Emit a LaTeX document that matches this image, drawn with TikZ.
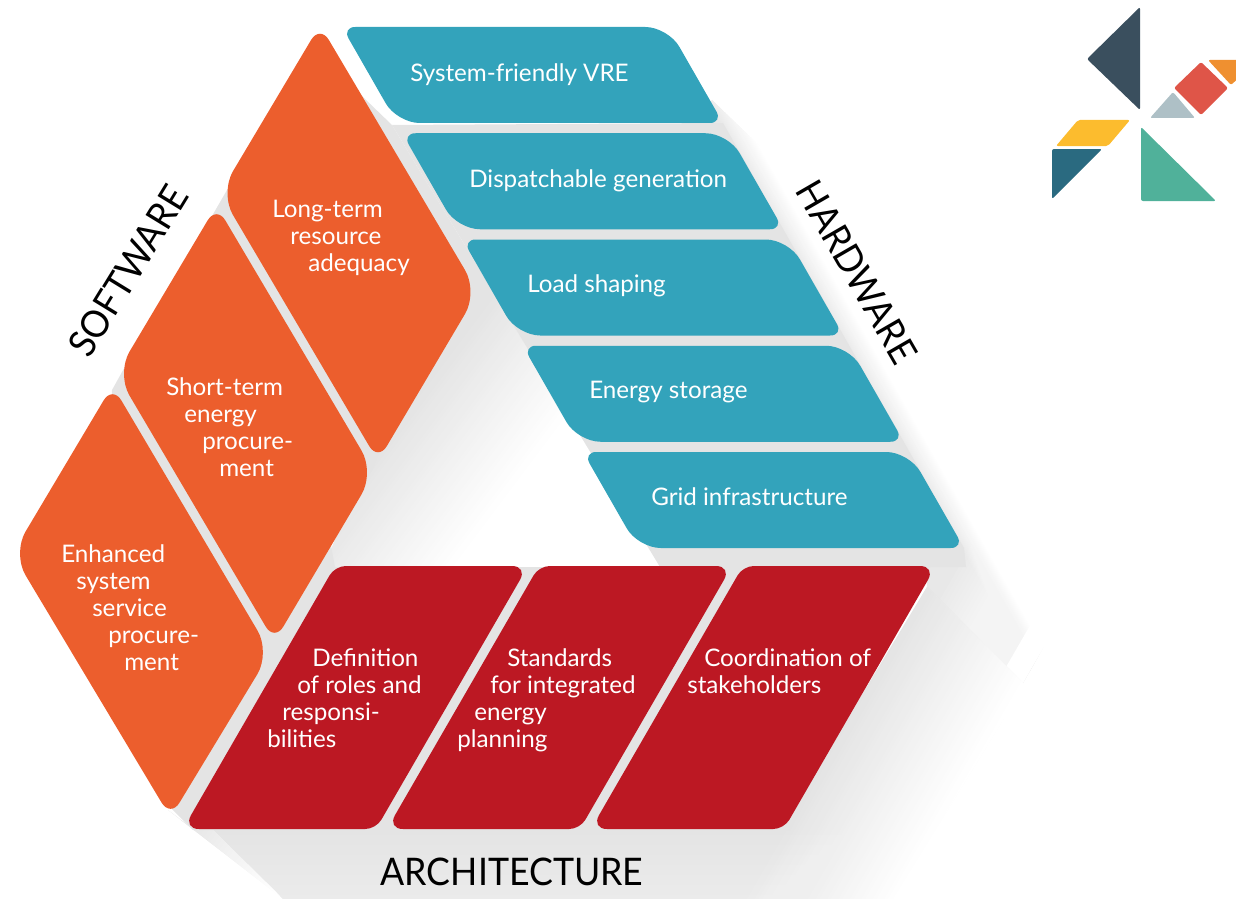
\documentclass[tikz,border=0pt]{standalone}
\usepackage{fontspec}
\setmainfont{Lato}
\newfontfamily\headfont[FakeStretch=0.94]{Lato}
\definecolor{gE}{HTML}{E4E4E4}
\definecolor{gU}{HTML}{E8E8E8}
\definecolor{orangeC}{HTML}{EC5E2D}
\definecolor{tealC}{HTML}{33A3BB}
\definecolor{redC}{HTML}{BC1823}
\definecolor{logoA}{HTML}{3A4F5E}
\definecolor{logoB}{HTML}{AEC0C6}
\definecolor{logoC}{HTML}{DF5548}
\definecolor{logoD}{HTML}{EF9030}
\definecolor{logoE}{HTML}{FCBC2E}
\definecolor{logoF}{HTML}{2A6A80}
\definecolor{logoG}{HTML}{50B19A}
\newcommand\gradstrips[7]{% x y angle length from to steps
  \foreach \ii in {0,...,#7}{%
    \pgfmathsetmacro\gf{\ii==0 ? -1500 : \ii/#7*#4}%
    \pgfmathsetmacro\gg{(\ii+2)/#7*#4}%
    \pgfmathtruncatemacro\gp{100-100*\ii/#7}%
    \fill[fill=#5!\gp!#6,shift={(#1,#2)},rotate=#3] (\gf,-1500) rectangle (\gg,1500);
  }}
\newcommand\whiteover[6]{% x y angle length steps opacity
  \foreach \ii in {1,...,#5}{%
    \pgfmathsetmacro\gf{\ii/#5*#4}%
    \fill[white,fill opacity=#6,shift={(#1,#2)},rotate=#3] (\gf,-1500) rectangle (#4+800,1500);
  }
  \fill[white,shift={(#1,#2)},rotate=#3] (#4,-1500) rectangle (#4+800,1500);}
\newcommand\orangepiece[3]{%
  \fill[orangeC,shift={(#1,#2)}] (399,158.5) [rounded corners=19pt] -- (478,292) [rounded corners=13pt] -- (378,461+#3) [rounded corners=19pt] -- (220,193) [rounded corners=13pt] -- (320,25) -- cycle;}
\newcommand\tealpiece[2]{%
  \fill[tealC,shift={(#1,#2)}] (500,27) [rounded corners=17pt] -- (668,27) [rounded corners=10pt] -- (723,123) [rounded corners=17pt] -- (397,123) [rounded corners=10pt] -- (342,27) -- cycle;}
\newcommand\redpiece[1]{%
  \fill[redC,shift={(#1,0)}] (840,566) [rounded corners=12pt] -- (936,566) [rounded corners=8pt] -- (784,829) [rounded corners=12pt] -- (591,829) [rounded corners=8pt] -- (743,566) -- cycle;}
\tikzset{
  x=0.75pt,y=-0.75pt,
  lbl/.style={anchor=north west,inner sep=0pt,align=left,text=white,font=\fontsize{18.15}{20.25}\selectfont},
  head/.style={inner sep=0pt,text=black,font=\headfont\fontsize{28.5}{32}\selectfont}
}
\newcommand\sk[1]{\hspace*{\dimexpr 0.75pt*#1\relax}}
\begin{document}
\begin{tikzpicture}
\useasboundingbox (0,0) rectangle (1236,899);
\clip (0,0) rectangle (1236,899);
% inner triangle shadow
\begin{scope}
  \clip (363,97) -- (392,125) -- (660,567) -- (655,600) -- (310,600) -- (360,480) -- (470,292) -- cycle;
  \gradstrips{456}{342}{-36.87}{132}{gE}{white}{40}
\end{scope}
% upper right shadow
\begin{scope}
  \clip (712,100) -- (1128,500) -- (1023,683) -- (927,587) -- (925,560) -- (700,120) -- cycle;
  \gradstrips{491.6}{-278.5}{29.5}{23}{gU}{white}{24}
  \whiteover{961}{555}{-30}{95}{24}{0.09}
\end{scope}
% lower shadow
\begin{scope}
  \clip (212,829) -- (283,899) -- (893,899) -- (1025,685) -- (927,587) -- (780,830) -- cycle;
  \gradstrips{946.5}{546.5}{-30}{132}{gE}{white}{40}
  \foreach \yy in {835,845,...,895}{\fill[white,fill opacity=0.06] (150,\yy) rectangle (1100,899);}
\end{scope}
% tail
\begin{scope}
  \clip (168,810) -- (283,899) -- (212,829) -- (193,829) -- cycle;
  \gradstrips{180}{815}{-37.7}{120}{gE}{white}{30}
\end{scope}
% base grey behind the pieces
\fill[gE] (227,190) -- (122,372) -- (112,390) -- (100,650) -- (168,805) -- (193,830) -- (790,830) -- (930,567) -- (335,567) -- (330,540) -- (372,470) -- (378,455) -- (470,292) -- (363,97) -- (330,60) -- cycle;
\fill[gE] (392,125) -- (723,123) -- (964,548) -- (966,567) -- (660,567) -- cycle;
% orange
\orangepiece{0}{0}{0}
\orangepiece{-103.5}{180.5}{0}
\orangepiece{-207.5}{360.5}{-4}
% teal
\tealpiece{0}{0}
\tealpiece{60.25}{106.25}
\tealpiece{120.5}{212.5}
\tealpiece{180.75}{318.75}
\tealpiece{241}{425}
% red
\redpiece{0}
\redpiece{-204}
\redpiece{-408}
% labels
\node[lbl] (t1) at (410,62) {\strut System-friendly VRE};
\node[lbl] (t2) at (469,168) {\strut Dispatchable generation};
\node[lbl] (t3) at (527,273) {\strut Load shaping};
\node[lbl] (t4) at (589,379) {\strut Energy storage};
\node[lbl] (t5) at (651,486) {\strut Grid infrastructure};
\node[lbl] (o1) at (272,198) {\strut Long-term\\\sk{18}resource\\\sk{36}adequacy};
\node[lbl] (o2) at (166,376) {\strut Short-term\\\sk{18}energy\\\sk{36}procure-\\\sk{53}ment};
\node[lbl] (o3) at (61,543) {\strut Enhanced\\\sk{15}system\\\sk{31}service\\\sk{47}procure-\\\sk{63}ment};
\node[lbl] (r1) at (267,647) {\strut\sk{45}Definition\\\sk{30}of roles and\\\sk{15}responsi-\\bilities};
\node[lbl] (r2) at (457,647) {\strut\sk{50}Standards\\\sk{33}for integrated\\\sk{17}energy\\planning};
\node[lbl] (r3) at (687,647) {\strut\sk{17}Coordination of\\stakeholders};
% headings
\node[head] (hs) at (128,271) [rotate=58.5] {SOFTWARE};
\node[head] (hh) at (857,272) [rotate=-60] {HARDWARE};
\node[head,anchor=base] (ha) at (512,885) {ARCHITECTURE};
% logo
\begin{scope}[rounded corners=1.5pt]
\fill[logoA] (1140,7) -- (1087,59) -- (1140,110) -- cycle;
\fill[logoB] (1173,92) -- (1150,118) -- (1195,118) -- cycle;
\fill[logoC] (1201,62) -- (1228,88) -- (1201,115) -- (1174,88) -- cycle;
\fill[logoD] (1208,60) -- (1245,60) -- (1245,72) -- (1231,85) -- cycle;
\fill[logoE] (1078,120) -- (1130,120) -- (1108,146) -- (1056,146) -- cycle;
\fill[logoF] (1052,149) -- (1102,149) -- (1052,199) -- cycle;
\fill[logoG] (1141,127) -- (1216,201) -- (1141,201) -- cycle;
\end{scope}
\end{tikzpicture}
\end{document}
